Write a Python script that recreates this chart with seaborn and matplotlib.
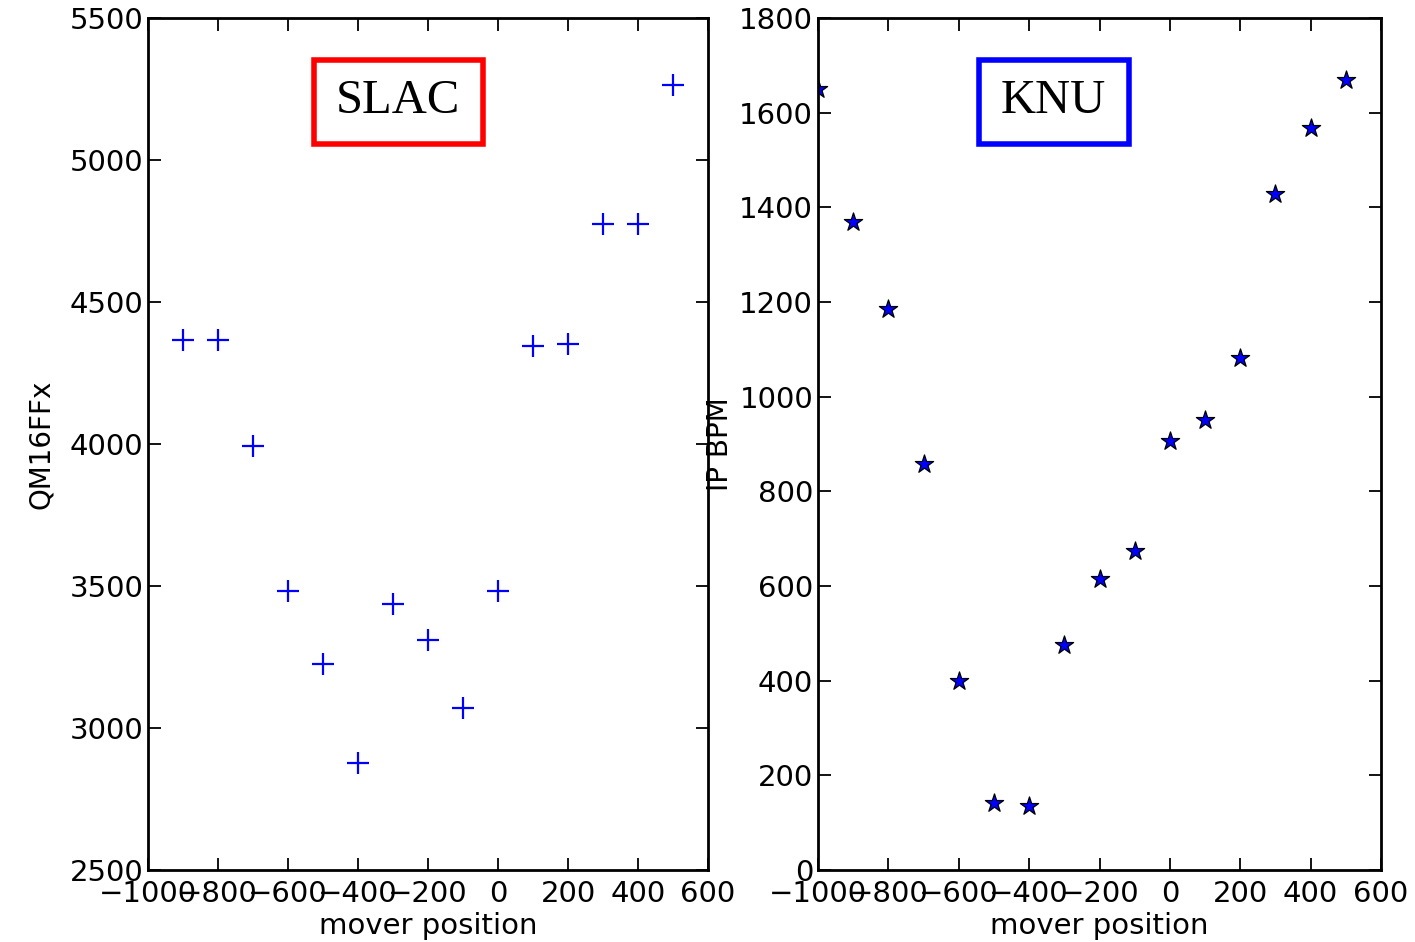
import matplotlib
matplotlib.use("Agg")
import matplotlib.pyplot as plt
from matplotlib.patches import Rectangle
import seaborn as sns
import pandas as pd

# left panel: SLAC mover scan, QM16FFx
slac_pos = [-900, -800, -700, -600, -500, -400, -300, -200, -100, 0, 100, 200, 300, 400, 500]
slac_qm16ffx = [4366, 4366, 3993, 3482, 3225, 2877, 3437, 3310, 3070, 3482, 4345, 4352, 4775, 4775, 5264]

# right panel: KNU mover scan, IP BPM
knu_pos = [-1000, -900, -800, -700, -600, -500, -400, -300, -200, -100, 0, 100, 200, 300, 400, 500]
knu_ipbpm = [1650, 1370, 1185, 858, 399, 142, 135, 475, 615, 674, 906, 951, 1082, 1428, 1568, 1669]

x_ticks = [-1000, -800, -600, -400, -200, 0, 200, 400, 600]
slac_yticks = [2500, 3000, 3500, 4000, 4500, 5000, 5500]
knu_yticks = [0, 200, 400, 600, 800, 1000, 1200, 1400, 1600, 1800]

sns.set_theme(style="white", rc={
    "xtick.direction": "in",
    "ytick.direction": "in",
    "xtick.top": True,
    "ytick.right": True,
    "xtick.bottom": True,
    "ytick.left": True,
    "xtick.major.size": 9,
    "ytick.major.size": 9,
    "xtick.major.width": 1.3,
    "ytick.major.width": 1.3,
    "axes.edgecolor": "black",
    "axes.labelcolor": "black",
    "text.color": "black",
    "axes.linewidth": 2,
    "xtick.color": "black",
    "ytick.color": "black",
})
plt.rcParams["font.family"] = ["DejaVu Sans"]

fig = plt.figure(figsize=(14.15, 9.42), dpi=100)
ax1 = fig.add_axes([0.1046, 0.0764, 0.3958, 0.9045])
ax2 = fig.add_axes([0.5781, 0.0764, 0.3979, 0.9045])

df_slac = pd.DataFrame({"pos": slac_pos, "val": slac_qm16ffx})
df_knu = pd.DataFrame({"pos": knu_pos, "val": knu_ipbpm})

sns.scatterplot(data=df_slac, x="pos", y="val", marker="+", color="blue",
                s=230, linewidth=1.6, ax=ax1)
sns.scatterplot(data=df_knu, x="pos", y="val", marker="*", color="blue",
                edgecolor="black", linewidth=0.9, s=190, ax=ax2)

for ax, yt in [(ax1, slac_yticks), (ax2, knu_yticks)]:
    ax.set_xlim(-1000, 600)
    ax.set_ylim(yt[0], yt[-1])
    ax.set_xticks(x_ticks)
    ax.set_yticks(yt)
    ax.tick_params(labelsize=21, colors="black")
    ax.tick_params(axis="x", pad=7)
    ax.set_xlabel("mover position", fontsize=21, labelpad=3)
    for sp in ax.spines.values():
        sp.set_visible(True)
        sp.set_color("black")
        sp.set_linewidth(2)

ax1.set_ylabel("QM16FFx", fontsize=20, labelpad=10)
ax2.set_ylabel("IP BPM", fontsize=20, labelpad=4)

# labelled boxes over the panels
fig.patches.append(Rectangle((0.2219, 0.8471), 0.1194, 0.0892, transform=fig.transFigure,
                             fill=False, edgecolor="#ff0000", linewidth=4))
fig.text(0.2813, 0.8928, "SLAC", ha="center", va="center", fontsize=35,
         family="Liberation Serif", color="black")
fig.patches.append(Rectangle((0.6919, 0.8471), 0.1060, 0.0892, transform=fig.transFigure,
                             fill=False, edgecolor="#0000ff", linewidth=4))
fig.text(0.7442, 0.8928, "KNU", ha="center", va="center", fontsize=35,
         family="Liberation Serif", color="black")

fig.savefig("out.png", dpi=100, facecolor="white")
